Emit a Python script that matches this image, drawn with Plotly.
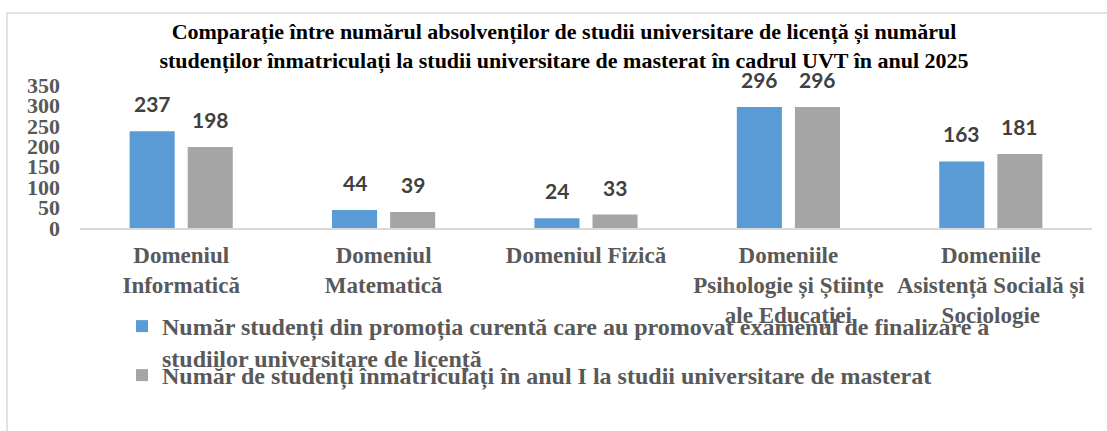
import plotly.graph_objects as go

categories = [
    "Domeniul<br>Informatică",
    "Domeniul<br>Matematică",
    "Domeniul Fizică",
    "Domeniile<br>Psihologie și Științe<br>ale Educației",
    "Domeniile<br>Asistență Socială și<br>Sociologie",
]
absolventi = [237, 44, 24, 296, 163]
inmatriculati = [198, 39, 33, 296, 181]
series_names = [
    "Număr studenți din promoția curentă care au promovat examenul de finalizare a<br>studiilor universitare de licență",
    "Număr de studenți înmatriculați în anul I la studii universitare de masterat",
]
y_ticks = [0, 50, 100, 150, 200, 250, 300, 350]
title_text = ("Comparație între numărul absolvenților de studii universitare de licență și numărul<br>"
              "studenților înmatriculați la studii universitare de masterat în cadrul UVT în anul 2025")

BLUE = "#5B9BD5"
GRAY = "#A5A5A5"
SERIF = "Liberation Serif, Times New Roman, serif"
SANS = "Lato, Liberation Sans, sans-serif"
W, H = 1107, 431

fig = go.Figure()
fig.add_trace(go.Bar(x=categories, y=absolventi, name=series_names[0], showlegend=True,
                     marker=dict(color=BLUE, line=dict(width=0)), legend="legend"))
fig.add_trace(go.Bar(x=categories, y=inmatriculati, name=series_names[1], showlegend=True,
                     marker=dict(color=GRAY, line=dict(width=0)), legend="legend2"))

annotations = []
for vals, shift in ((absolventi, -29), (inmatriculati, 29)):
    for c, v in zip(categories, vals):
        annotations.append(dict(x=c, y=v, xref="x", yref="y", text=str(v), showarrow=False,
                                xshift=shift, yshift=13, yanchor="bottom",
                                font=dict(family=SANS, size=21, color="#404040", weight="bold")))

legend_font = dict(family=SERIF, size=24, color="#595959", weight="bold")
fig.update_layout(
    width=W, height=H,
    showlegend=True,
    margin=dict(l=80, r=15, t=85, b=203, autoexpand=False),
    paper_bgcolor="white", plot_bgcolor="white",
    bargap=0.426, bargroupgap=0.224,
    title=dict(text=title_text, x=564 / W, xanchor="center", xref="container",
               y=1 - 39 / H, yanchor="top", yref="container",
               font=dict(family=SERIF, size=22, color="black", weight="bold")),
    xaxis=dict(showline=True, linecolor="#D9D9D9", linewidth=1.5, showgrid=False,
               ticks="", ticklabelstandoff=6,
               tickfont=dict(family=SERIF, size=23, color="#595959", weight="bold")),
    yaxis=dict(range=[0, 350], tickvals=y_ticks, showgrid=False, zeroline=False, showline=False,
               ticks="", ticklabelstandoff=19,
               tickfont=dict(family=SERIF, size=22, color="#595959", weight="bold")),
    legend=dict(x=122 / W, xanchor="left", xref="container", y=1 - 304 / H, yanchor="top",
                yref="container", valign="top", font=legend_font,
                bgcolor="rgba(0,0,0,0)", borderwidth=0),
    legend2=dict(x=122 / W, xanchor="left", xref="container", y=1 - 353 / H, yanchor="top",
                 yref="container", valign="top", font=legend_font,
                 bgcolor="rgba(0,0,0,0)", borderwidth=0),
    annotations=annotations,
    shapes=[dict(type="rect", xref="paper", yref="paper",
                 x0=(7 - 80) / 1012, x1=(1130 - 80) / 1012,
                 y0=(228 - 460) / 143, y1=(228 - 13) / 143,
                 line=dict(color="#D9D9D9", width=1.5), fillcolor="rgba(0,0,0,0)", layer="below")],
)

fig.write_html("out.html", config={"displayModeBar": False},
               post_script="document.body.style.margin='0';document.body.style.overflow='hidden';")
